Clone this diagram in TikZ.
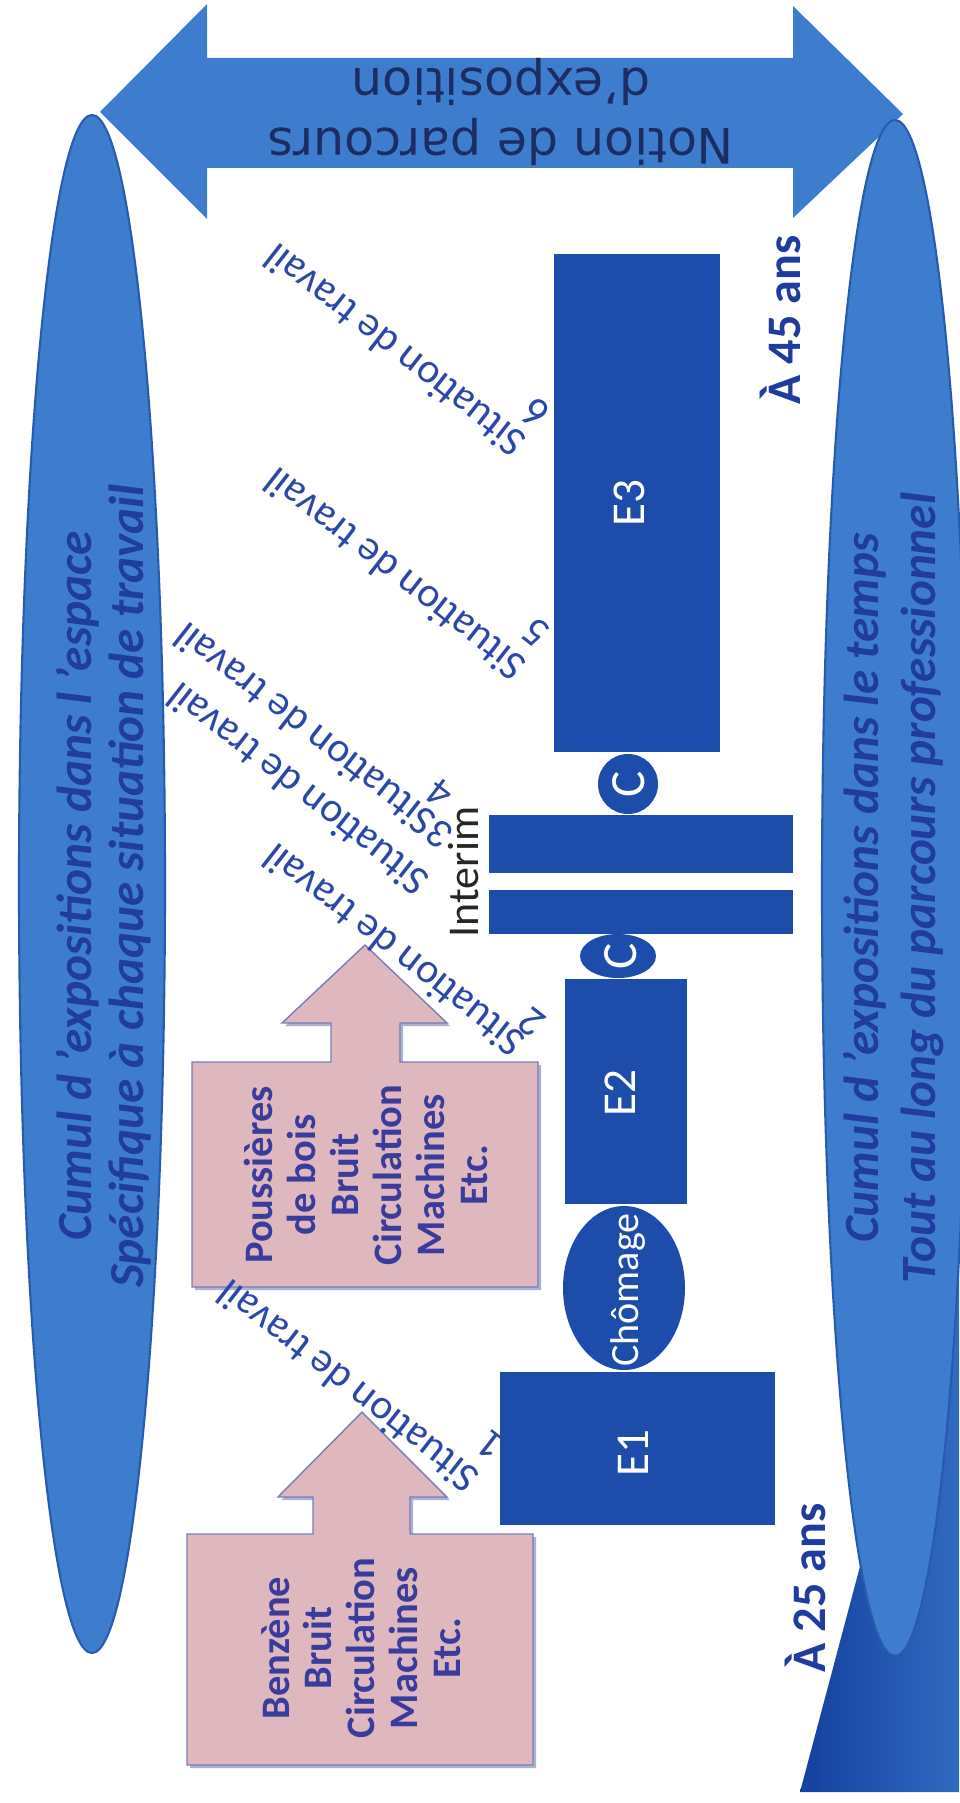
\documentclass[tikz,border=0pt]{standalone}
\usepackage{fontspec}
\setmainfont{Carlito}
\newfontfamily\notionfont{DejaVu Sans}

\definecolor{midblue}{RGB}{62,124,206}
\definecolor{edgeblue}{RGB}{40,90,176}
\definecolor{boxblue}{RGB}{30,76,170}
\definecolor{deepblue}{RGB}{20,64,158}
\definecolor{inkblue}{RGB}{32,60,158}
\definecolor{sitblue}{RGB}{42,72,168}
\definecolor{pinkfill}{RGB}{223,183,190}
\definecolor{pinkedge}{RGB}{118,126,182}
\definecolor{pinkink}{RGB}{58,60,156}
\definecolor{navy}{RGB}{28,44,100}

\tikzset{
  sit/.style={text=sitblue, rotate=142, inner sep=0pt, font=\fontsize{11.9}{14}\selectfont},
  blocktxt/.style={text=white, rotate=90, inner sep=0pt, font=\fontsize{13.4}{15}\selectfont},
  pinkbox/.style={fill=pinkfill, draw=pinkedge, line width=0.4pt,
    preaction={fill=pinkedge, opacity=.6, transform canvas={xshift=0.9pt, yshift=-0.9pt}}},
  pinktxt/.style={text=pinkink, rotate=90, align=center, inner sep=0pt,
    font=\bfseries\fontsize{11.5}{12.2}\selectfont},
  cumul/.style={text=inkblue, rotate=90, align=center, inner sep=0pt,
    font=\bfseries\itshape\fontsize{14}{#1}\selectfont},
  agetxt/.style={text=inkblue, rotate=90, inner sep=0pt, font=\bfseries\fontsize{13.7}{15}\selectfont},
  spindle/.style={fill=midblue, draw=edgeblue, line width=0.6pt}
}

\begin{document}
\begin{tikzpicture}[x=0.01cm, y=-0.01cm]
\useasboundingbox (0,0) rectangle (959,1803);

% fond en bas a droite
\shade[left color=deepblue, right color=midblue!70!deepblue] (800,1792) -- (959,1194) -- (959,1792) -- cycle;

% fleche double du haut
\fill[midblue] (100,112) -- (207,4) -- (207,58) -- (793,58) -- (793,6) -- (903,114)
  -- (793,218) -- (793,168) -- (207,168) -- (207,219) -- cycle;
\node[text=navy, rotate=180, align=center, inner sep=0pt, font=\notionfont\fontsize{13.9}{17}\selectfont]
  (notion) at (501,112) {Notion de parcours\\d’exposition};

% les deux fuseaux
\filldraw[spindle] (92,884) ellipse (73 and 769);
\filldraw[spindle] (895,888) ellipse (73 and 768);
\node[cumul=14.8] (espace) at (104,886) {Cumul d ’expositions dans l ’espace\\Spécifique à chaque situation de travail};
\node[cumul=16.2] (temps) at (893,888) {Cumul d ’expositions dans le temps\\Tout au long du parcours professionnel};

\node[agetxt] (age45) at (780,320) {À 45 ans};
\node[agetxt] (age25) at (805,1588) {À 25 ans};

% parcours
\fill[boxblue] (554,254) rectangle (720,752);
\fill[boxblue] (628,784) circle (30);
\fill[boxblue] (489,815) rectangle (793,873);
\fill[boxblue] (489,890) rectangle (793,934);
\fill[boxblue] (618,956) ellipse (38 and 22);
\fill[boxblue] (565,979) rectangle (687,1204);
\fill[boxblue] (624,1288) ellipse (61 and 82);
\fill[boxblue] (500,1372) rectangle (775,1525);

\node[blocktxt] (e3) at (629,503) {E3};
\node[blocktxt, font=\fontsize{14}{15}\selectfont] (c1) at (629,784) {C};
\node[blocktxt, font=\fontsize{14}{15}\selectfont] (c2) at (621,956) {C};
\node[blocktxt] (e2) at (620,1093) {E2};
\node[blocktxt, font=\fontsize{11.4}{13}\selectfont] (chomage) at (628,1290) {Chômage};
\node[blocktxt] (e1) at (633,1453) {E1};
\node[rotate=90, inner sep=0pt, text=black!85, font=\fontsize{12.5}{14}\selectfont] (interim) at (464,872) {Interim};

% expositions
\filldraw[pinkbox] (192,1062) -- (331,1062) -- (331,1023) -- (282,1023) -- (365,945) -- (447,1023)
  -- (400,1023) -- (400,1062) -- (538,1062) -- (538,1287) -- (192,1287) -- cycle;
\filldraw[pinkbox] (187,1534) -- (313,1534) -- (313,1497) -- (278,1497) -- (362,1412) -- (447,1497)
  -- (410,1497) -- (410,1534) -- (533,1534) -- (533,1765) -- (187,1765) -- cycle;
\node[pinktxt] (bois) at (366,1175) {Poussières\\de bois\\Bruit\\Circulation\\Machines\\Etc.};
\node[pinktxt] (benzene) at (361,1648) {Benzène\\Bruit\\Circulation\\Machines\\Etc.};

% situations de travail
\foreach \n/\sx/\sy/\nx/\ny in {1/347/1387/491/1446, 2/393/951/532/1023, 3/297/790/440/835,
    4/304/730/440/794, 5/394/575/536/632, 6/394/351/536/413} {
  \node[sit] (sit\n) at (\sx,\sy) {Situation de travail};
  \node[sit] (num\n) at (\nx,\ny) {\n};
}
\end{tikzpicture}
\end{document}
